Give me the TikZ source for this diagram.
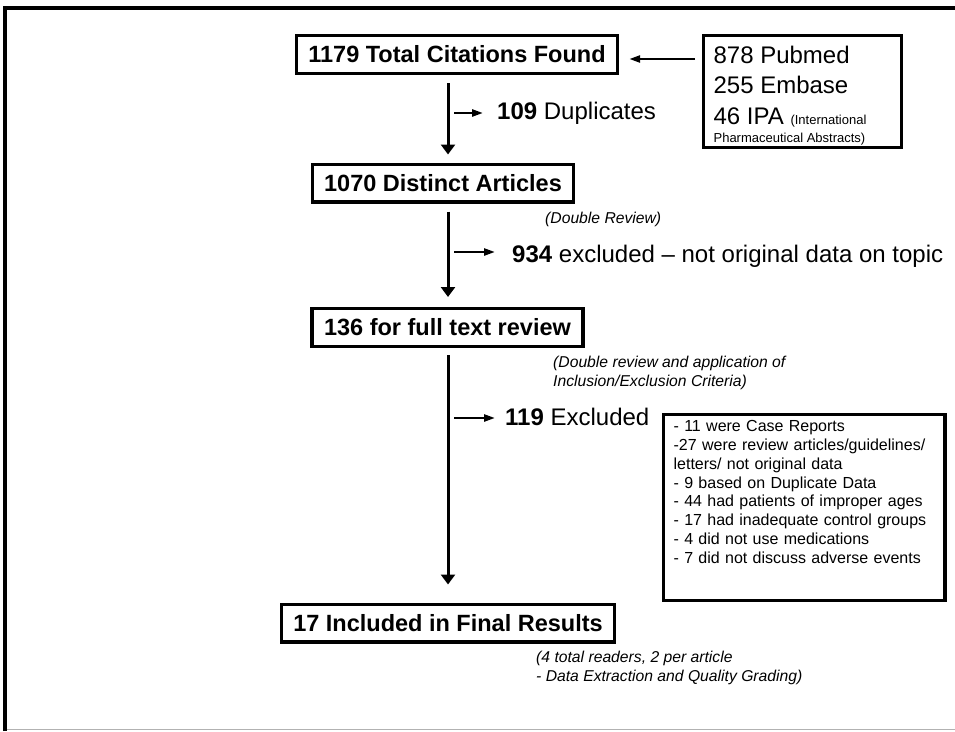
\documentclass[tikz,border=0pt]{standalone}
\usepackage{fontspec}
\setmainfont{Liberation Sans}
\usepackage{tikz}
\usetikzlibrary{arrows.meta}

\begin{document}
\begin{tikzpicture}[x=1pt,y=-1pt,
		stage/.style={draw, line width=3.2pt, inner xsep=12pt, minimum height=37.8pt, font=\fontsize{23.5}{28}\selectfont\bfseries},
		listbox/.style={draw, line width=3.2pt, anchor=north west, align=left, inner xsep=10pt},
		flow/.style={-{Triangle[width=14pt,length=10pt]}, line width=3pt},
		side/.style={-{Triangle[width=7pt,length=11pt]}, line width=2.4pt},
		tally/.style={anchor=west, inner sep=0pt, font=\fontsize{24}{28}\selectfont},
		remark/.style={anchor=west, inner sep=0pt, align=left, font=\fontsize{15.7}{19}\selectfont\itshape}]
		% Frame
		\useasboundingbox (0,0) rectangle (955,731);
		\draw[line width=4pt] (5,731) -- (5,8) -- (955,8);
		\draw[gray!60, line width=1.5pt] (7,729.5) -- (955,729.5);
		
		% Stages
		\node[stage] (found) at (457,54.5) {1179 Total Citations Found};
		\node[stage] (distinct) at (443,183) {1070 Distinct Articles};
		\node[stage] (fulltext) at (447.5,327.5) {136 for full text review};
		\node[stage] (included) at (448,623) {17 Included in Final Results};
		
		% Sources
		\node[listbox, text width=177.8pt, inner ysep=3pt, font=\fontsize{24}{28}\selectfont] (sources) at (702,34)
			{\spaceskip=0pt \xspaceskip=0pt \rule{0pt}{24.4pt}878 Pubmed\\[2pt]255 Embase\\[3pt]46 IPA {\fontsize{13}{15}\selectfont (International}\\[-10pt]{\fontsize{13}{15}\selectfont Pharmaceutical Abstracts)}};
		\coordinate (srcfrom) at (695,59);
		\draw[side] (srcfrom) -- (srcfrom -| found.east) [shorten >=10pt];
		
		% Vertical flow
		\draw[flow, shorten <=8pt, shorten >=8pt] (found.south -| included) -- (distinct.north -| included);
		\draw[flow, shorten <=8pt, shorten >=10pt] (distinct.south -| included) -- (fulltext.north -| included);
		\draw[flow, shorten <=7pt, shorten >=18pt] (fulltext.south -| included) -- (included.north);
		
		% Exclusions
		\node[tally] (dup) at (497,113) {\textbf{109} Duplicates};
		\coordinate (dupfrom) at (454,113);
		\draw[side, shorten >=14pt] (dupfrom) -- (dupfrom -| dup.west);
		
		\node[remark] (dblrev) at (545,219) {(Double Review)};
		\node[tally] (offtopic) at (512,256) {\textbf{934} excluded – not original data on topic};
		\coordinate (offfrom) at (454,252);
		\draw[side, shorten >=17pt] (offfrom) -- (offfrom -| offtopic.west);
		
		\node[remark] (criteria) at (553,372.5) {(Double review and application of\\Inclusion/Exclusion Criteria)};
		\node[tally] (excl) at (505,417) {\textbf{119} Excluded};
		\coordinate (exclfrom) at (454,418);
		\draw[side, shorten >=10pt] (exclfrom) -- (exclfrom -| excl.west);
		
		% Reasons
		\node[listbox, text width=261.4pt, inner ysep=6pt, font=\fontsize{16}{18.76}\selectfont] (reasons) at (662,413)
			{- 11 were Case Reports\\-27 were review articles/guidelines/\\letters/ not original data\\- 9 based on Duplicate Data\\- 44 had patients of improper ages\\- 17 had inadequate control groups\\- 4 did not use medications\\- 7 did not discuss adverse events\\[13pt]\mbox{}};
		
		\node[remark] (readers) at (536,667.5) {(4 total readers, 2 per article\\- Data Extraction and Quality Grading)};
	\end{tikzpicture}
\end{document}
